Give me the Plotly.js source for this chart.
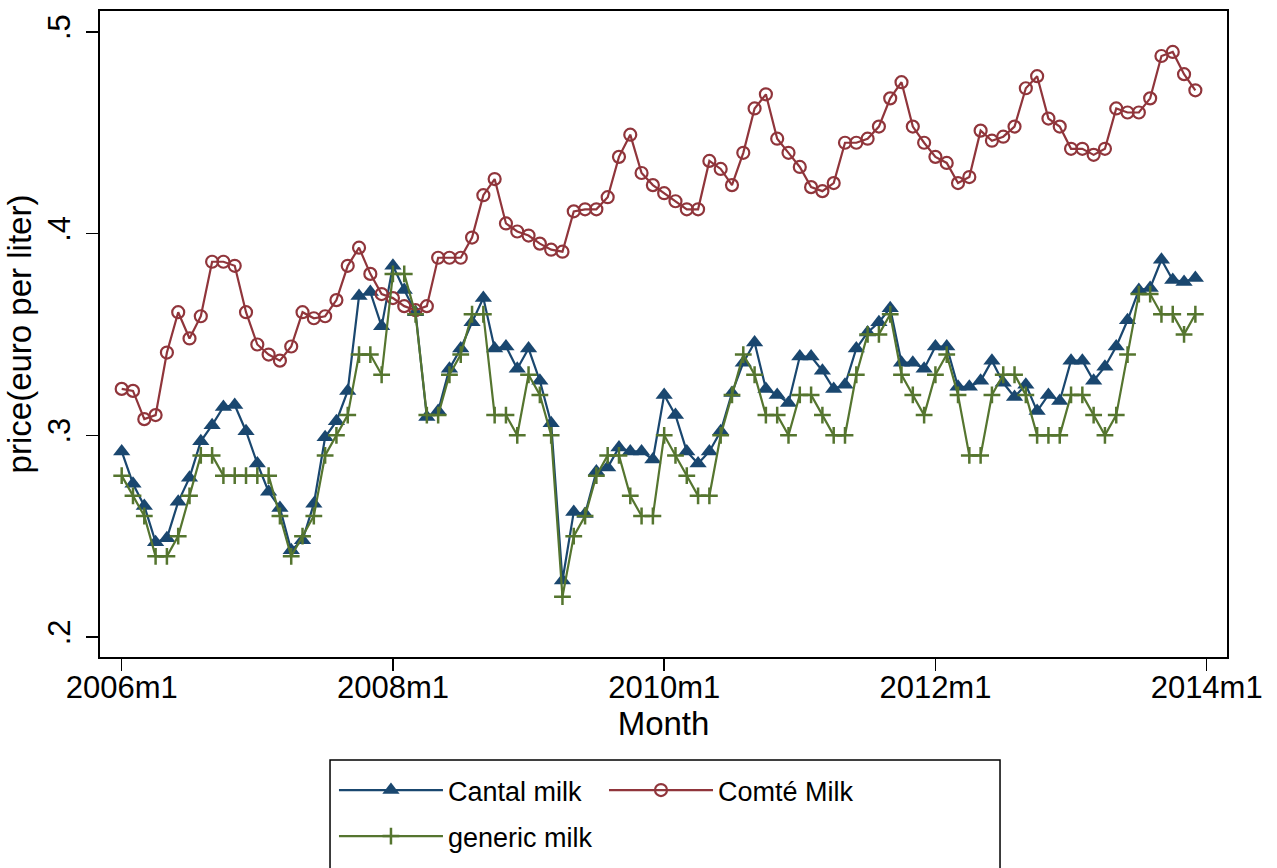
<!DOCTYPE html>
<html>
<head>
<meta charset="utf-8">
<script src="https://cdn.plot.ly/plotly-3.0.1.min.js"></script>
<style>html,body{margin:0;padding:0;background:#fff;}</style>
</head>
<body>
<div id="chart" style="width:1277px;height:868px;"></div>
<script>
// Tick labels
const xTickVals = [0, 24, 48, 72, 96];
const xTickText = ['2006m1', '2008m1', '2010m1', '2012m1', '2014m1'];
const yTickVals = [0.2, 0.3, 0.4, 0.5];
const yTickText = ['.2', '.3', '.4', '.5'];

// Series names
const seriesNames = ['Cantal milk', 'Comté Milk', 'generic milk'];

// Monthly prices, 2006m1 .. 2013m12 (96 months)
const cantal = [
  0.292, 0.276, 0.265, 0.247, 0.249, 0.267, 0.279, 0.297, 0.305, 0.314, 0.315, 0.302,
  0.286, 0.272, 0.264, 0.243, 0.248, 0.266, 0.299, 0.307, 0.322, 0.369, 0.371, 0.354,
  0.384, 0.372, 0.361, 0.309, 0.312, 0.333, 0.343, 0.356, 0.368, 0.343, 0.344, 0.333,
  0.343, 0.327, 0.306, 0.228, 0.262, 0.261, 0.282, 0.284, 0.294, 0.292, 0.292, 0.288,
  0.320, 0.310, 0.292, 0.286, 0.292, 0.302, 0.321, 0.336, 0.346, 0.323, 0.320, 0.316,
  0.339, 0.339, 0.332, 0.323, 0.325, 0.343, 0.351, 0.356, 0.363, 0.336, 0.336, 0.333,
  0.344, 0.344, 0.324, 0.324, 0.327, 0.337, 0.326, 0.319, 0.325, 0.312, 0.320, 0.317,
  0.337, 0.337, 0.327, 0.334, 0.344, 0.357, 0.372, 0.373, 0.387, 0.377, 0.376, 0.378
];
const comte = [
  0.323, 0.322, 0.308, 0.310, 0.341, 0.361, 0.348, 0.359, 0.386, 0.386, 0.384, 0.361,
  0.345, 0.340, 0.337, 0.344, 0.361, 0.358, 0.359, 0.367, 0.384, 0.393, 0.380, 0.370,
  0.368, 0.364, 0.362, 0.364, 0.388, 0.388, 0.388, 0.398, 0.419, 0.427, 0.405, 0.401,
  0.399, 0.395, 0.392, 0.391, 0.411, 0.412, 0.412, 0.418, 0.438, 0.449, 0.430, 0.424,
  0.420, 0.416, 0.412, 0.412, 0.436, 0.432, 0.424, 0.440, 0.462, 0.469, 0.447, 0.440,
  0.433, 0.423, 0.421, 0.425, 0.445, 0.445, 0.447, 0.453, 0.467, 0.475, 0.453, 0.445,
  0.438, 0.435, 0.425, 0.428, 0.451, 0.446, 0.448, 0.453, 0.472, 0.478, 0.457, 0.453,
  0.442, 0.442, 0.439, 0.442, 0.462, 0.460, 0.460, 0.467, 0.488, 0.490, 0.479, 0.471
];
const generic = [
  0.28, 0.27, 0.26, 0.24, 0.24, 0.25, 0.27, 0.29, 0.29, 0.28, 0.28, 0.28,
  0.28, 0.28, 0.26, 0.24, 0.25, 0.26, 0.29, 0.30, 0.31, 0.34, 0.34, 0.33,
  0.38, 0.38, 0.36, 0.31, 0.31, 0.33, 0.34, 0.36, 0.36, 0.31, 0.31, 0.30,
  0.33, 0.32, 0.30, 0.22, 0.25, 0.26, 0.28, 0.29, 0.29, 0.27, 0.26, 0.26,
  0.30, 0.29, 0.28, 0.27, 0.27, 0.30, 0.32, 0.34, 0.33, 0.31, 0.31, 0.30,
  0.32, 0.32, 0.31, 0.30, 0.30, 0.33, 0.35, 0.35, 0.36, 0.33, 0.32, 0.31,
  0.33, 0.34, 0.32, 0.29, 0.29, 0.32, 0.33, 0.33, 0.32, 0.30, 0.30, 0.30,
  0.32, 0.32, 0.31, 0.30, 0.31, 0.34, 0.37, 0.37, 0.36, 0.36, 0.35, 0.36
];

// month index (0 = 2006m1)
const months = cantal.map((_, i) => i);

const FONT = 'Liberation Sans, Arial, Helvetica, sans-serif';
const NAVY = '#1a476f', MAROON = '#90353b', GREEN = '#55752f';

const traces = [
  {
    x: months, y: cantal, name: seriesNames[0], type: 'scatter', mode: 'lines+markers',
    line: {color: NAVY, width: 2.2},
    marker: {symbol: 'triangle-up', size: 15, color: NAVY},
    legend: 'legend'
  },
  {
    x: months, y: comte, name: seriesNames[1], type: 'scatter', mode: 'lines+markers',
    line: {color: MAROON, width: 2.2},
    marker: {symbol: 'circle-open', size: 12, color: MAROON, line: {color: MAROON, width: 2.2}},
    legend: 'legend3'
  },
  {
    x: months, y: generic, name: seriesNames[2], type: 'scatter', mode: 'lines+markers',
    line: {color: GREEN, width: 2.2},
    marker: {symbol: 'cross-thin', size: 12, color: GREEN, line: {color: GREEN, width: 2.5}},
    legend: 'legend2'
  }
];

const legendBase = {
  orientation: 'h', xanchor: 'left', yanchor: 'top', itemwidth: 104,
  font: {family: FONT, size: 27, color: '#000'},
  bgcolor: 'rgba(0,0,0,0)', borderwidth: 0
};

const layout = {
  width: 1277, height: 868,
  margin: {l: 100, r: 50, t: 11, b: 211, pad: 0, autoexpand: false},
  paper_bgcolor: '#fff', plot_bgcolor: '#fff',
  font: {family: FONT, color: '#000'},
  showlegend: true,
  xaxis: {
    range: [-1.92, 97.8],
    tickmode: 'array', tickvals: xTickVals, ticktext: xTickText,
    ticks: 'outside', ticklen: 12, tickwidth: 1.5, tickcolor: '#000',
    ticklabelstandoff: -10,
    showline: true, mirror: true, linecolor: '#000', linewidth: 2,
    showgrid: false, zeroline: false,
    tickfont: {family: FONT, size: 31, color: '#000'},
    title: {text: 'Month', font: {family: FONT, size: 33, color: '#000'}, standoff: 4}
  },
  yaxis: {
    range: [0.1901, 0.5103],
    tickmode: 'array', tickvals: yTickVals, ticktext: yTickText, tickangle: -90,
    ticks: 'outside', ticklen: 12, tickwidth: 1.5, tickcolor: '#000',
    ticklabelstandoff: 4,
    showline: true, mirror: true, linecolor: '#000', linewidth: 2,
    showgrid: false, zeroline: false,
    tickfont: {family: FONT, size: 31, color: '#000'},
    title: {text: 'price(euro per liter)', font: {family: FONT, size: 33, color: '#000'}, standoff: 0}
  },
  legend: Object.assign({}, legendBase, {x: 0.2076, y: -0.1687}),
  legend2: Object.assign({}, legendBase, {x: 0.2076, y: -0.2399}),
  legend3: Object.assign({}, legendBase, {x: 0.4472, y: -0.1687}),
  shapes: [{
    type: 'rect', xref: 'paper', yref: 'paper',
    x0: 0.2041, x1: 0.7986, y0: -0.1594, y1: -0.36,
    line: {color: '#000', width: 1.5}, fillcolor: 'rgba(0,0,0,0)'
  }]
};

Plotly.newPlot('chart', traces, layout, {displayModeBar: false, staticPlot: true});
</script>
</body>
</html>
